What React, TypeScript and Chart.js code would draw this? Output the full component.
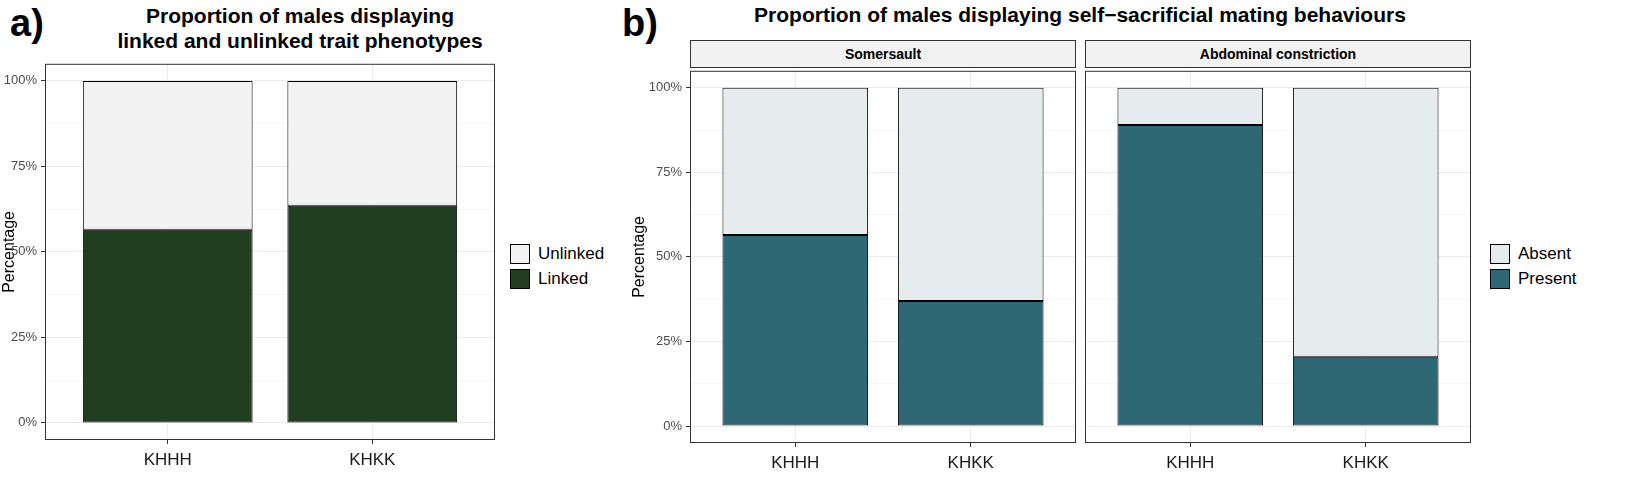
import React, { useEffect, useRef } from "react";
import { Chart, registerables } from "chart.js";
Chart.register(...registerables);

const categories = ["KHHH", "KHKK"];
const linkedPct = [56.5, 63.5];
const somersaultPresent = [56.5, 37];
const abdominalPresent = [89, 20.5];
const yTicks = [0, 25, 50, 75, 100];

const FONT = "'Liberation Sans', Arial, sans-serif";

const borderPlugin = {
  id: "plotBorder",
  afterDraw(chart: any) {
    const { ctx, chartArea: a } = chart;
    ctx.save();
    ctx.strokeStyle = "#333";
    ctx.lineWidth = 1;
    ctx.strokeRect(a.left + 0.5, a.top + 0.5, a.right - a.left - 1, a.bottom - a.top - 1);
    ctx.restore();
  },
};

function makeConfig(bottom: number[], bottomLabel: string, topLabel: string, bottomColor: string, topColor: string, showY: boolean, yWidth: number) {
  return {
    type: "bar",
    data: {
      datasets: [
        { label: bottomLabel, data: bottom.map((v, i) => ({ x: i + 1, y: v })), backgroundColor: bottomColor, borderColor: "#000", borderWidth: 1, borderSkipped: false, barPercentage: 0.83, categoryPercentage: 1 },
        { label: topLabel, data: bottom.map((v, i) => ({ x: i + 1, y: 100 - v })), backgroundColor: topColor, borderColor: "#000", borderWidth: 1, borderSkipped: false, barPercentage: 0.83, categoryPercentage: 1 },
      ],
    },
    options: {
      animation: false,
      responsive: false,
      maintainAspectRatio: false,
      layout: { padding: { right: 1, top: 0, left: 0, bottom: 0 } },
      plugins: { legend: { display: false }, tooltip: { enabled: false } },
      scales: {
        x: {
          type: "linear",
          stacked: true,
          offset: false,
          min: 0.4,
          max: 2.6,
          afterBuildTicks: (s: any) => { s.ticks = categories.map((_, i) => ({ value: i + 1 })); },
          afterFit: (s: any) => { s.height = 44; },
          ticks: { callback: (v: any) => categories[Math.round(v) - 1] ?? "", color: "#1a1a1a", font: { family: FONT, size: 17 }, padding: 6 },
          grid: { offset: false, color: "#ebebeb", drawTicks: true, tickColor: "#333", tickLength: 4 },
          border: { display: false },
        },
        y: {
          stacked: true,
          min: -5,
          max: 105,
          afterBuildTicks: (s: any) => {
            const t: any[] = [];
            for (let v = 0; v <= 100; v += 12.5) t.push({ value: v });
            s.ticks = t;
          },
          afterFit: (s: any) => { s.width = yWidth; },
          ticks: {
            callback: (v: any) => (yTicks.includes(v) ? v + "%" : ""),
            color: showY ? "#4d4d4d" : "rgba(0,0,0,0)",
            font: { family: FONT, size: 13 },
            padding: 4,
          },
          title: { display: showY, text: "Percentage", color: "#000", font: { family: FONT, size: 16 }, padding: 0 },
          grid: {
            color: (c: any) => (yTicks.includes(c.tick?.value) ? "#ebebeb" : "#f5f5f5"),
            tickColor: (c: any) => (showY && yTicks.includes(c.tick?.value) ? "#333" : "rgba(0,0,0,0)"),
            tickLength: showY ? 4 : 0,
          },
          border: { display: false },
        },
      },
    },
    plugins: [borderPlugin],
  } as any;
}

function ChartBox(props: { style: React.CSSProperties; width: number; height: number; config: any }) {
  const ref = useRef<HTMLCanvasElement>(null);
  useEffect(() => {
    const c = new Chart(ref.current!, props.config);
    return () => c.destroy();
  }, []);
  return <canvas ref={ref} width={props.width} height={props.height} style={{ position: "absolute", ...props.style, width: props.width, height: props.height }} />;
}

function Legend(props: { left: number; top: number; items: { label: string; color: string }[] }) {
  return (
    <div style={{ position: "absolute", left: props.left, top: props.top, fontFamily: FONT, fontSize: 17 }}>
      {props.items.map((it) => (
        <div key={it.label} style={{ display: "flex", alignItems: "center", height: 25 }}>
          <div style={{ width: 20, height: 20, background: it.color, border: "1px solid #000", boxSizing: "border-box", marginRight: 8 }} />
          <span>{it.label}</span>
        </div>
      ))}
    </div>
  );
}

const txt: React.CSSProperties = { position: "absolute", fontFamily: FONT, color: "#000" };

export default function App() {
  return (
    <div style={{ position: "absolute", left: 0, top: 0, width: 1650, height: 494, background: "#fff", overflow: "hidden" }}>
      <div style={{ ...txt, left: 10, top: 2, fontSize: 38, fontWeight: "bold" }}>a)</div>
      <div style={{ ...txt, left: 90, top: 3, width: 420, textAlign: "center", fontSize: 21, fontWeight: "bold", lineHeight: "25px" }}>
        Proportion of males displaying<br />linked and unlinked trait phenotypes
      </div>
      <ChartBox style={{ left: 0, top: 52 }} width={496} height={432} config={makeConfig(linkedPct, "Linked", "Unlinked", "#213f20", "#f2f2f2", true, 45)} />
      <Legend left={510} top={241} items={[{ label: "Unlinked", color: "#f2f2f2" }, { label: "Linked", color: "#213f20" }]} />

      <div style={{ ...txt, left: 622, top: 2, fontSize: 38, fontWeight: "bold" }}>b)</div>
      <div style={{ ...txt, left: 680, top: 3, width: 800, textAlign: "center", fontSize: 21, fontWeight: "bold" }}>
        Proportion of males displaying self−sacrificial mating behaviours
      </div>
      <div style={{ ...txt, left: 690, top: 40, width: 386, height: 28, boxSizing: "border-box", border: "1px solid #333", background: "#f2f2f2", fontSize: 14, fontWeight: "bold", display: "flex", alignItems: "center", justifyContent: "center" }}>Somersault</div>
      <div style={{ ...txt, left: 1085, top: 40, width: 386, height: 28, boxSizing: "border-box", border: "1px solid #333", background: "#f2f2f2", fontSize: 14, fontWeight: "bold", display: "flex", alignItems: "center", justifyContent: "center" }}>Abdominal constriction</div>
      <ChartBox style={{ left: 630, top: 59 }} width={447} height={428} config={makeConfig(somersaultPresent, "Present", "Absent", "#2d6874", "#e6eced", true, 60)} />
      <ChartBox style={{ left: 1085, top: 59 }} width={387} height={428} config={makeConfig(abdominalPresent, "Present", "Absent", "#2d6874", "#e6eced", false, 0)} />
      <Legend left={1490} top={241} items={[{ label: "Absent", color: "#e6eced" }, { label: "Present", color: "#2d6874" }]} />
    </div>
  );
}
